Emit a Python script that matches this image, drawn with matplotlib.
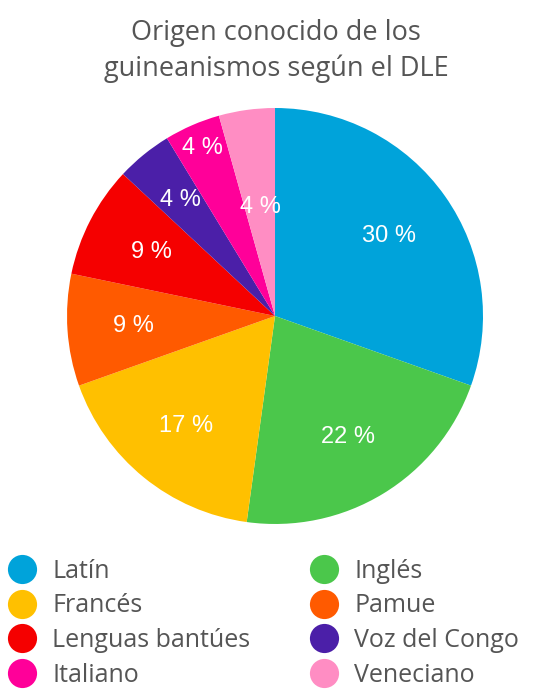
import matplotlib
matplotlib.use("Agg")
import matplotlib.pyplot as plt
from matplotlib.lines import Line2D
import numpy as np

categories = ["Latín", "Inglés", "Francés", "Pamue", "Lenguas bantúes",
              "Voz del Congo", "Italiano", "Veneciano"]
counts = [7, 5, 4, 2, 2, 1, 1, 1]
pct_labels = ["30 %", "22 %", "17 %", "9 %", "9 %", "4 %", "4 %", "4 %"]
colors = ["#00A3DA", "#4BC74B", "#FFC000", "#FF5A00", "#F50000",
          "#4B1FA8", "#FF0099", "#FF8DC3"]
title = "Origen conocido de los\nguineanismos según el DLE"

# radial position of each percentage label (fraction of radius)
label_radius = [0.67, 0.68, 0.68, 0.68, 0.67, 0.72, 0.88, 0.53]

fig = plt.figure(figsize=(5.34, 6.91), dpi=100)
ax = fig.add_axes([0.1255, 0.2417, 0.779, 0.602])
wedges, _ = ax.pie(counts, colors=colors, startangle=90, counterclock=False,
                   wedgeprops=dict(linewidth=0))
for w, lab, r in zip(wedges, pct_labels, label_radius):
    ang = np.deg2rad((w.theta1 + w.theta2) / 2)
    ax.text(r * np.cos(ang), r * np.sin(ang), lab, ha="center", va="center",
            color="white", fontsize=17, family="Liberation Sans")
ax.set_aspect("equal")
ax.set_xlim(-1, 1)
ax.set_ylim(-1, 1)

fig.text(0.517, 0.926, title, ha="center", va="center", fontsize=19.5,
         family="Open Sans", color="#555555", linespacing=1.38)

order = [0, 2, 4, 6, 1, 3, 5, 7]
handles = [Line2D([], [], marker="o", linestyle="none", markersize=21,
                  markerfacecolor=colors[i], markeredgewidth=0) for i in order]
labels = [categories[i] for i in order]
leg = fig.legend(handles, labels, ncol=2, loc="upper left",
                 bbox_to_anchor=(0.015, 0.1915), frameon=False,
                 prop=dict(family="Open Sans", size=18),
                 labelcolor="#555555", handletextpad=0.64, columnspacing=2.4,
                 labelspacing=0.39, handlelength=1.12, borderaxespad=0,
                 borderpad=0)

fig.savefig("out.png", dpi=100)
